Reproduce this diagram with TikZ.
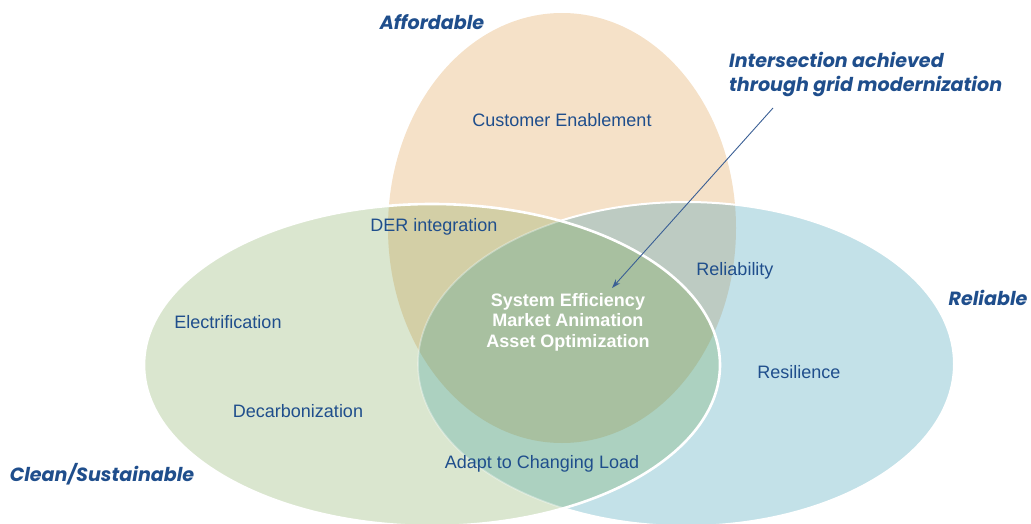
\documentclass[tikz,border=0pt]{standalone}
\usepackage{fontspec}
\setmainfont{Liberation Sans}
\newfontfamily\headfont{Poppins}
\usetikzlibrary{arrows.meta}

\definecolor{txtblue}{HTML}{1F4E8C}
\definecolor{arrowblue}{HTML}{3A5F95}
\definecolor{cO}{HTML}{F5E1C8}
\definecolor{cG}{HTML}{DAE6CF}
\definecolor{cB}{HTML}{C3E1E8}
\definecolor{cOG}{HTML}{D3CFA6}
\definecolor{cOB}{HTML}{BDCBC2}
\definecolor{cGB}{HTML}{ACD1C0}
\definecolor{cOGB}{HTML}{A8C0A0}

\tikzset{
  lbl/.style={font=\fontsize{18}{20}\selectfont, text=txtblue, inner sep=0pt},
  core/.style={font=\fontsize{18}{20.5}\selectfont\bfseries, text=white, align=center, inner sep=0pt},
  head/.style={font=\headfont\fontsize{19.1}{24}\selectfont\bfseries\itshape, text=txtblue, inner sep=0pt},
  pointer/.style={draw=arrowblue, line width=0.9pt, -{Stealth[length=9pt,width=6pt]}},
}

% the three sets
\def\setO{(562,228) ellipse [x radius=174pt, y radius=215pt]}
\def\setG{(432,365) ellipse [x radius=288pt, y radius=161pt]}
\def\setB{(686,364) ellipse [x radius=268pt, y radius=162pt]}

\begin{document}
\begin{tikzpicture}[x=1pt, y=-1pt]
\useasboundingbox (0,0) rectangle (1031,524);
\begin{scope}
\clip (0,0) rectangle (1031,524);

% affordable and reliable sets with their overlap
\fill[cO] \setO;
\fill[cB] \setB;
\begin{scope}\clip \setO; \fill[cOB] \setB; \end{scope}
\draw[white, line width=2pt] \setB;

% clean set laid over them
\fill[cG] \setG;
\begin{scope}
  \clip \setG;
  \fill[cOG] \setO;
  \fill[cGB] \setB;
  \clip \setO;
  \fill[cOGB] \setB;
\end{scope}
% faint edge of the reliable set inside the clean set
\begin{scope}
  \clip \setG;
  \draw[white, opacity=0.35, line width=1.6pt] \setB;
\end{scope}
% outline of the clean set
\draw[white, line width=2.6pt] \setG;
\end{scope}

% set titles
\node[head] (tAff) at (432,22) {Affordable};
\node[head] (tRel) at (988,298) {Reliable};
\node[head] (tCln) at (102,474) {Clean/Sustainable};
\node[head, anchor=west, align=left] (tInt) at (729,74)
  {Intersection achieved\\through grid modernization};

% region labels
\node[lbl] (lCust) at (562,120) {Customer Enablement};
\node[lbl] (lDER) at (434,227) {DER integration};
\node[lbl] (lRlb) at (735,271) {Reliability};
\node[lbl] (lElec) at (228,322) {Electrification};
\node[lbl] (lRes) at (799,372) {Resilience};
\node[lbl] (lDec) at (298,411) {Decarbonization};
\node[lbl] (lAdp) at (542,464) {Adapt to Changing Load};

\node[core] (core) at (568,322) {System Efficiency\\Market Animation\\Asset Optimization};

% pointer into the common core
\coordinate (pS) at (773,108);
\coordinate (pE) at (612,288);
\draw[pointer] (pS) -- (pE);
\end{tikzpicture}
\end{document}
